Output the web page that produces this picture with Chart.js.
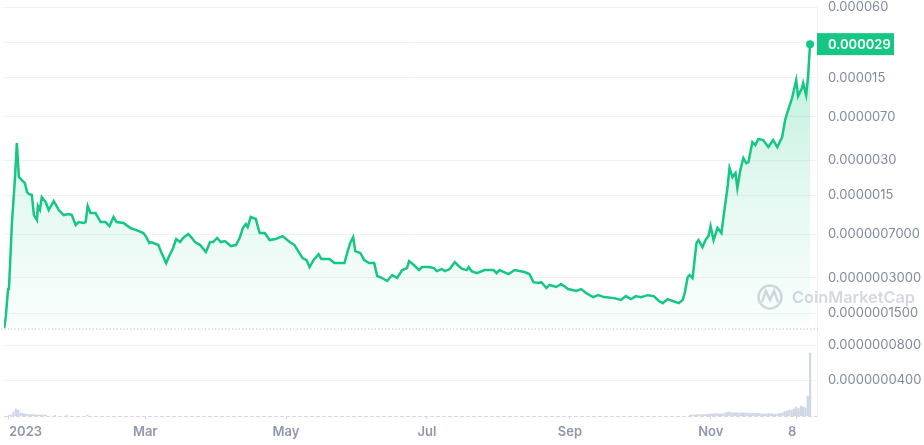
<!DOCTYPE html>
<html>
<head>
<meta charset="utf-8">
<script src="https://cdn.jsdelivr.net/npm/chart.js@4.4.0/dist/chart.umd.min.js"></script>
<style>
  html, body { margin: 0; padding: 0; background: #fff; }
  #wrap { width: 924px; height: 445px; position: relative; }
</style>
</head>
<body>
<div id="wrap"><canvas id="chart"></canvas></div>
<script>
// ---------- Data ----------
// day offsets from 2023-01-01 (intraday samples allowed)
const priceDays = [-2.1, -1.4, -0.4, 0, 1.3, 2.6, 3.4, 4.3, 5.6, 6.9, 7.8, 8.6, 9.9, 10.8, 12.1, 12.5, 13.4, 14.2, 15.9, 17.2,
  19.4, 21.6, 23.7, 25.9, 27.2, 28.9, 30.2, 32.3, 33.2, 34.1, 35.3, 37.5, 39.7, 41.8, 43.5, 45.3, 46.6, 49.6, 52.6, 55.2,
  58.2, 59.5, 60.8, 61.6, 64.7, 65.9, 68.1, 69.4, 71.1, 72.4, 74.1, 75.4, 77.6, 78.9, 80.6, 82.8, 85.3, 87.1, 88.4, 90.1,
  91.8, 93.5, 96.1, 98.3, 100, 101.3, 102.6, 103.4, 104.7, 106.9, 108.6, 110.8, 112.9, 115.5, 118.5, 121.6, 123.7, 125, 127.2, 128.9,
  130.2, 131.9, 134.1, 135.3, 138.8, 141, 143.1, 145.3, 146.6, 147.8, 149.1, 150, 152.2, 153.9, 156, 158.2, 159.5, 161.6, 163.8, 166,
  168.1, 170.3, 172.4, 173.3, 175.4, 177.6, 178.9, 181.9, 184.1, 185.3, 187.5, 188.8, 190.9, 193.1, 194.8, 196.1, 198.3, 199.1, 200.4, 202.6,
  206, 209.9, 211.2, 212.5, 216.4, 219, 223.3, 225.4, 227.2, 229.3, 230.6, 232.8, 234.1, 237.1, 239.2, 242.2, 245.7, 247.8, 250, 253,
  255.2, 257.8, 262.1, 265.1, 267.2, 269.4, 271.6, 273.7, 276.7, 279.3, 281.5, 283.2, 285.3, 287.5, 290.1, 291.8, 292.7, 294, 294.8, 296.1,
  297.8, 298.7, 300.4, 301.7, 303, 303.9, 305.2, 306.9, 308.6, 309.5, 311.2, 312.1, 313.4, 314.7, 315.5, 316.8, 318.1, 319.4, 320.3, 322,
  323.3, 324.6, 326.7, 328.9, 331, 332.8, 334.9, 336.2, 337.5, 339.2, 341, 341.8, 343.5, 344, 345.3, 346.1, 347];

// price in 1e-9 USD
const priceNano = [112, 139, 240, 245, 891, 2109, 4183, 2151, 2028, 1912, 1603, 1542, 1512, 1022, 927, 1219, 1127, 1454, 1318, 1127,
  1344, 1127, 1022, 1042, 1022, 841, 891, 874, 891, 1219, 1063, 1063, 891, 891, 824, 983, 891, 874, 793, 762,
  718, 664, 591, 602, 568, 495, 399, 458, 536, 639, 602, 652, 705, 664, 602, 568, 495, 602, 602, 652,
  602, 614, 557, 568, 658, 793, 857, 808, 983, 945, 718, 718, 626, 639, 677, 602, 568, 515, 440, 423,
  369, 423, 476, 432, 432, 399, 399, 399, 495, 591, 664, 505, 486, 423, 399, 399, 310, 298, 281, 316,
  298, 348, 362, 415, 384, 348, 369, 369, 362, 341, 355, 341, 355, 407, 377, 358, 348, 369, 341, 328,
  348, 348, 328, 348, 322, 348, 335, 322, 275, 270, 275, 245, 260, 250, 265, 240, 231, 240, 222, 205,
  213, 205, 201, 194, 209, 197, 209, 205, 213, 209, 190, 182, 197, 190, 182, 194, 222, 304, 316, 298,
  591, 626, 546, 626, 677, 824, 626, 793, 718, 983, 1734, 2566, 2151, 2326, 1734, 2467, 3120, 2829, 2885, 4267,
  4024, 4525, 4437, 3870, 4437, 3870, 4706, 6567, 7987, 10100, 14370, 10500, 12290, 13550, 10710, 15230, 29000];

// volume, million USD
const volDays = [0, 1, 2, 3, 4, 5, 6, 7, 8, 9, 10, 11, 12, 13, 14, 15, 16, 20, 25, 34,
  295, 296, 297, 298, 299, 300, 301, 302, 303, 304, 305, 306, 307, 308, 309, 310, 311, 312, 313, 314,
  315, 316, 317, 318, 319, 320, 321, 322, 323, 324, 325, 326, 327, 328, 329, 330, 331, 332, 333, 334,
  335, 336, 337, 338, 339, 340, 341, 342, 343, 344, 345, 346, 347];
const volumes = [5, 10, 40, 70, 60, 30, 25, 20, 18, 15, 15, 12, 12, 10, 10, 10, 8, 8, 6, 8,
  8, 10, 12, 15, 12, 15, 14, 16, 20, 18, 20, 25, 22, 20, 22, 25, 35, 40, 35, 30,
  35, 30, 28, 32, 30, 28, 25, 30, 28, 26, 24, 22, 20, 22, 25, 22, 20, 20, 22, 25,
  30, 45, 50, 60, 55, 70, 90, 75, 100, 90, 80, 200, 630];

// axis ticks
const tickValuesNano = [60000, 30000, 15000, 7000, 3000, 1500, 700, 300, 150, 80, 40];
const tickLabels = ["0.000060", "", "0.000015", "0.0000070", "0.0000030", "0.0000015",
  "0.0000007000", "0.0000003000", "0.0000001500", "0.0000000800", "0.0000000400"];
const monthTickDays = [0, 59, 120, 181, 243, 304, 341];
const monthTickLabels = ["2023", "Mar", "May", "Jul", "Sep", "Nov", "8"];
const lastPriceLabel = "0.000029";

// ---------- Build ----------
const NANO = 1e-9;
const GREEN = "#16c784";
const pricePts = priceDays.map((d, i) => ({ x: d, y: priceNano[i] * NANO }));
const volPts = volDays.map((d, i) => ({ x: d, y: volumes[i] }));
const basePrice = priceNano[0] * NANO;
const lastIdx = pricePts.length - 1;

const extras = {
  id: "extras",
  beforeDatasetsDraw(chart) {
    const { ctx, chartArea: a, scales } = chart;
    // watermark
    ctx.save();
    ctx.strokeStyle = "rgba(170,178,196,0.5)";
    ctx.fillStyle = "rgba(170,178,196,0.5)";
    ctx.lineWidth = 2.4;
    ctx.beginPath();
    ctx.arc(770, 297, 11.5, 0, Math.PI * 2);
    ctx.stroke();
    ctx.beginPath();
    ctx.moveTo(762, 302);
    ctx.lineTo(766, 291);
    ctx.lineTo(770, 300);
    ctx.lineTo(774, 291);
    ctx.lineTo(778, 302);
    ctx.stroke();
    let fs = 19;
    ctx.font = "600 " + fs + "px Inter";
    fs = fs * 123 / ctx.measureText("CoinMarketCap").width;
    ctx.font = "600 " + fs.toFixed(1) + "px Inter";
    ctx.textBaseline = "middle";
    ctx.fillText("CoinMarketCap", 792, 298);
    // dotted reference line at opening price
    const y0 = Math.round(scales.y.getPixelForValue(basePrice)) + 0.5;
    ctx.fillStyle = "#a7afbd";
    for (let x = 1; x < a.right; x += 3.4) ctx.fillRect(x, y0, 1, 1);
    ctx.restore();
  },
  afterDraw(chart) {
    const { ctx, chartArea: a, scales } = chart;
    ctx.save();
    // dashed axis baseline
    ctx.strokeStyle = "#d3d9e3";
    ctx.lineWidth = 1;
    ctx.setLineDash([4, 2]);
    ctx.beginPath();
    ctx.moveTo(a.left, a.bottom + 0.5);
    ctx.lineTo(a.right, a.bottom + 0.5);
    ctx.stroke();
    ctx.setLineDash([]);
    // last price badge
    const yl = scales.y.getPixelForValue(pricePts[lastIdx].y);
    ctx.fillStyle = GREEN;
    ctx.fillRect(a.right, yl - 11, 77, 22);
    ctx.fillStyle = "#fff";
    ctx.font = "600 13px Inter";
    ctx.textBaseline = "middle";
    ctx.fillText(lastPriceLabel, a.right + 11, yl + 0.5);
    ctx.restore();
  }
};

const ctx = document.getElementById("chart").getContext("2d");
new Chart(ctx, {
  data: {
    datasets: [
      {
        type: "line",
        data: pricePts,
        yAxisID: "y",
        borderColor: GREEN,
        borderWidth: 2.5,
        tension: 0,
        pointRadius: c => (c.dataIndex === lastIdx ? 4 : 0),
        pointBackgroundColor: GREEN,
        pointBorderWidth: 0,
        fill: { value: basePrice },
        backgroundColor: c => {
          const a = c.chart.chartArea;
          if (!a) return "rgba(22,199,132,0.1)";
          const g = c.chart.ctx.createLinearGradient(0, 40, 0, 330);
          g.addColorStop(0, "rgba(22,199,132,0.30)");
          g.addColorStop(0.5, "rgba(22,199,132,0.12)");
          g.addColorStop(1, "rgba(22,199,132,0.02)");
          return g;
        },
        order: 1
      },
      {
        type: "bar",
        data: volPts,
        yAxisID: "yVol",
        backgroundColor: "#cfd6e4",
        barThickness: 1.6,
        order: 2
      }
    ]
  },
  options: {
    responsive: true,
    maintainAspectRatio: false,
    animation: false,
    layout: { padding: 0 },
    plugins: { legend: { display: false }, tooltip: { enabled: false } },
    scales: {
      x: {
        type: "linear",
        offset: false,
        min: -2.16,
        max: 350,
        afterBuildTicks: s => { s.ticks = monthTickDays.map(v => ({ value: v })); },
        afterFit: s => { s.height = 29; s.paddingLeft = 0; s.paddingRight = 0; },
        ticks: {
          autoSkip: false,
          maxRotation: 0,
          align: "inner",
          padding: 5,
          color: "#8f98ab",
          font: { family: "Inter", size: 13, weight: "600" },
          callback: (v, i) => monthTickLabels[i]
        },
        grid: { offset: false, drawOnChartArea: false, drawTicks: true, tickLength: 3, color: "#cfd6e4" },
        border: { display: false }
      },
      y: {
        type: "logarithmic",
        position: "right",
        min: 20 * NANO,
        max: 60000 * NANO,
        afterBuildTicks: s => { s.ticks = tickValuesNano.map(v => ({ value: v * NANO })); },
        afterFit: s => { s.width = 107; s.paddingTop = 7; s.paddingBottom = 0; },
        ticks: {
          padding: 11,
          color: "#808a9d",
          font: { family: "Inter", size: 13 },
          callback: (v, i) => tickLabels[i]
        },
        grid: { color: "#eff2f5", drawTicks: false },
        border: { display: true, color: "#eff2f5" }
      },
      yVol: {
        type: "linear",
        display: false,
        min: 0,
        max: Math.max(...volumes) * 6.5
      }
    }
  },
  plugins: [extras]
});
</script>
</body>
</html>
